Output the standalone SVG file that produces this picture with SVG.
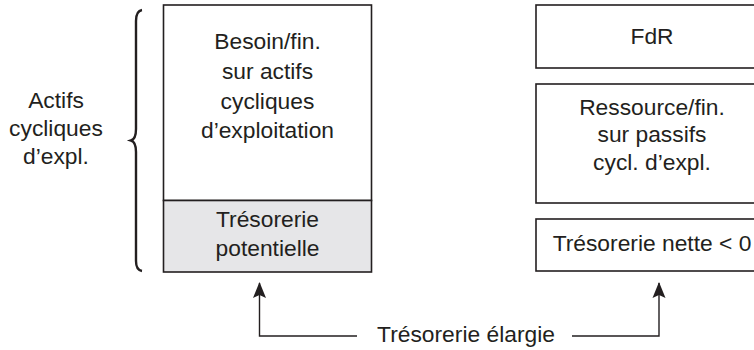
<svg xmlns="http://www.w3.org/2000/svg" width="754" height="350" viewBox="0 0 754 350">
<style>
text{font-family:"Liberation Sans",Arial,sans-serif;font-size:22.8px;fill:#231f20;text-anchor:middle}
.box{fill:#fff;stroke:#231f20;stroke-width:1.6}
.shade{fill:#e6e6e8;stroke:#231f20;stroke-width:1.6}
.conn{fill:none;stroke:#231f20;stroke-width:1.4}
</style>
<defs>
<marker id="ah" viewBox="0 0 16 14" refX="15" refY="7" markerWidth="16" markerHeight="14" markerUnits="userSpaceOnUse" orient="auto">
<path d="M16,7 L0,0.5 L3,7 L0,13.5 Z" fill="#231f20"/>
</marker>
</defs>
<rect width="754" height="350" fill="#fff"/>
<g id="brace">
<path d="M142,10 Q136,11 136,21 L136,129 Q136,139 131,140.5 Q136,142 136,152 L136,261 Q136,270 142,271" fill="none" stroke="#231f20" stroke-width="2.4"/>
</g>
<g id="actifs-label">
<text x="56" y="108">Actifs</text>
<text x="56" y="136">cycliques</text>
<text x="56" y="164">d’expl.</text>
</g>
<g id="besoin">
<rect class="box" x="163.5" y="5" width="208" height="195.5"/>
<text x="267.5" y="49">Besoin/fin.</text>
<text x="267.5" y="79">sur actifs</text>
<text x="267.5" y="109">cycliques</text>
<text x="267.5" y="138">d’exploitation</text>
</g>
<g id="tresorerie-potentielle">
<rect class="shade" x="163.5" y="200.5" width="208" height="71.5"/>
<text x="267.5" y="227">Trésorerie</text>
<text x="267.5" y="256">potentielle</text>
</g>
<g id="fdr">
<rect class="box" x="536" y="5" width="232" height="63"/>
<text x="652" y="44">FdR</text>
</g>
<g id="ressource">
<rect class="box" x="536" y="84" width="232" height="119"/>
<text x="652" y="115">Ressource/fin.</text>
<text x="652" y="142">sur passifs</text>
<text x="652" y="170">cycl. d’expl.</text>
</g>
<g id="tresorerie-nette">
<rect class="box" x="536" y="219" width="232" height="52"/>
<text x="652" y="251">Trésorerie nette &lt; 0</text>
</g>
<g id="tresorerie-elargie">
<text x="466" y="342">Trésorerie élargie</text>
</g>
<g id="connectors">
<path class="conn" d="M357,336 L259.5,336 L259.5,283" marker-end="url(#ah)"/>
<path class="conn" d="M572,336 L659,336 L659,283" marker-end="url(#ah)"/>
</g>
</svg>
